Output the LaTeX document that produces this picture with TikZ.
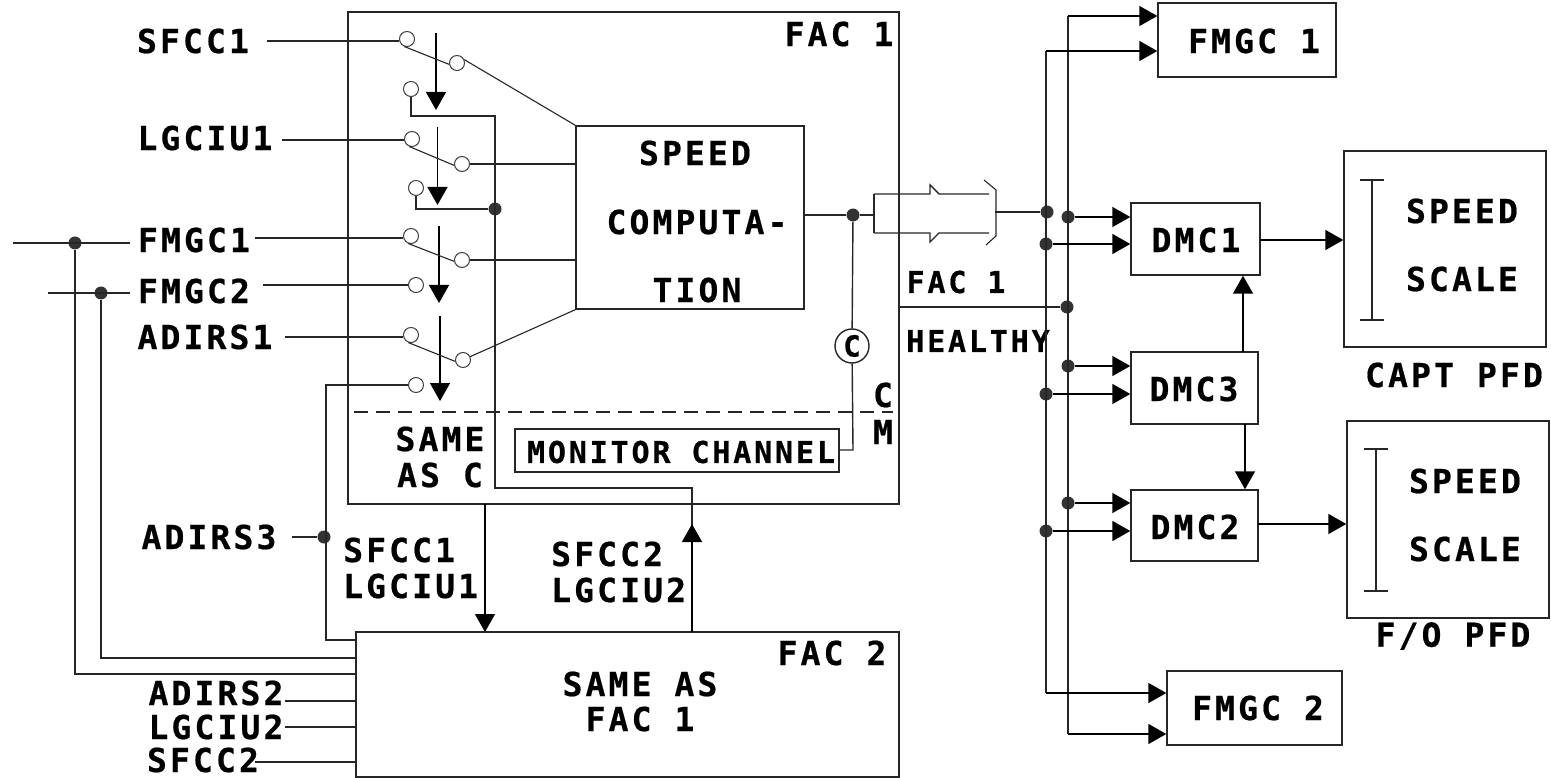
\documentclass[tikz,border=0pt]{standalone}
\usepackage{fontspec}
\usetikzlibrary{positioning,arrows.meta}
\newfontfamily\wirefont[LetterSpace=9.5,FakeBold=0.6]{DejaVu Sans Mono Bold}
\tikzset{
  wire/.style={line width=1.4pt,draw=black!85},
  flow/.style={line width=1.4pt,draw=black,-{Triangle[length=18pt,width=20pt]}},
  contact/.style={circle,draw=black!75,line width=1pt,fill=white,inner sep=0pt,minimum size=15pt},
  joint/.style={circle,fill=black!80,inner sep=0pt,minimum size=13pt},
  unit/.style={draw=black!85,line width=1.4pt,inner sep=0pt},
  txt/.style={font=\wirefont\fontsize{33}{36}\selectfont,inner sep=0pt,align=center},
  smalltxt/.style={font=\wirefont\fontsize{30}{34}\selectfont,inner sep=0pt}
}
\begin{document}
\begin{tikzpicture}[x=1pt,y=-1pt]
\useasboundingbox (0,0) rectangle (1551,778);
% computer boxes
\node[unit,minimum width=551pt,minimum height=492pt] (fac1) at (623.5,258) {};
\node[unit,minimum width=543pt,minimum height=145pt] (fac2) at (627.5,704.5) {};
\node[unit,minimum width=228pt,minimum height=183pt] (speed) at (690,217.5) {};
\node[unit,minimum width=324pt,minimum height=43pt] (monitor) at (677,450.5) {};
\node[unit,minimum width=178pt,minimum height=74pt] (fmgc1) at (1247,40) {};
\node[unit,minimum width=175pt,minimum height=74pt] (fmgc2) at (1254.5,708) {};
\node[unit,minimum width=129pt,minimum height=72pt] (dmc1) at (1195.5,239) {};
\node[unit,minimum width=127pt,minimum height=72pt] (dmc3) at (1194.5,388) {};
\node[unit,minimum width=127pt,minimum height=71pt] (dmc2) at (1194.5,525.5) {};
\node[unit,minimum width=202pt,minimum height=196pt] (capt) at (1445,249) {};
\node[unit,minimum width=202pt,minimum height=197pt] (fo) at (1448,519.5) {};
% box texts
\node[txt] (tfac1) at (839,34) {FAC 1};
\node[txt] (tfac2) at (832,653) {FAC 2};
\node[txt] (tsp) at (695,153) {SPEED};
\node[txt] (tcomp) at (697,222) {COMPUTA-};
\node[txt] (ttion) at (697,290) {TION};
\node[smalltxt] (tmon) at (681,452) {MONITOR CHANNEL};
\node[txt] (tsame) at (440,439) {SAME};
\node[txt] (tasc) at (440,475) {AS C};
\node[txt] (tc) at (883,395) {C};
\node[txt] (tm) at (883,432) {M};
\node[txt] (tsameas) at (640,684) {SAME AS};
\node[txt] (tfac11) at (640,719) {FAC 1};
\node[txt] (tf1) at (1254,41) {FMGC 1};
\node[txt] (tf2) at (1258,708) {FMGC 2};
\node[txt] (td1) at (1196,240) {DMC1};
\node[txt] (td3) at (1194,389) {DMC3};
\node[txt] (td2) at (1195,527) {DMC2};
\node[txt] (tsp1) at (1462,211) {SPEED};
\node[txt] (tsc1) at (1462,279) {SCALE};
\node[txt] (tsp2) at (1465,481) {SPEED};
\node[txt] (tsc2) at (1465,549) {SCALE};
\node[txt] (tcapt) at (1454,375) {CAPT PFD};
\node[txt] (tfo) at (1453,636) {F/O PFD};
\node[smalltxt] (thf) at (956,282) {FAC 1};
\node[smalltxt] (thh) at (978,341) {HEALTHY};
% signal names
\node[txt] (lsfcc1) at (193,41) {SFCC1};
\node[txt] (llgciu1) at (205,138) {LGCIU1};
\node[txt] (lfmgc1) at (194,240) {FMGC1};
\node[txt] (lfmgc2) at (194,291) {FMGC2};
\node[txt] (ladirs1) at (205,337) {ADIRS1};
\node[txt] (ladirs3) at (209,537) {ADIRS3};
\node[txt] (ladirs2) at (216,693) {ADIRS2};
\node[txt] (llgciu2) at (216,727) {LGCIU2};
\node[txt] (lsfcc2) at (203,760) {SFCC2};
\node[txt,align=left,anchor=west] (ldn) at (343,568) {SFCC1\\LGCIU1};
\node[txt,align=left,anchor=west] (lup) at (551,572) {SFCC2\\LGCIU2};
% switch contacts
\foreach \nm/\px/\py in {a1/407/39,b1/457/63,c1/411/89,a2/412/139,b2/462/164,c2/416/188,
  a3/411/236,b3/462/260,c3/416/285,a4/411/335,b4/463/360,c4/416/385}
  \node[contact] (\nm) at (\px,\py) {};
\foreach \nm/\px/\ptop/\pbot in {1/436/33/110,2/437.5/127/205,3/439/226/303,4/440/316/401}{
  \coordinate (s\nm) at (\px,\ptop);
  \coordinate (e\nm) at (\px,\pbot);
  \draw[flow] (s\nm) -- (e\nm);
}
\foreach \nm in {1,2,3,4}
  \draw[wire,line width=1.1pt] (a\nm.250) -- (b\nm.190);
% junctions
\foreach \nm/\px/\py in {jc/495/209,jo/853/215,ja/1047/212,jb/1046/244,jd/1068/217,jh/1067/307,
  je/1068/366,jf/1046/394,jg/1068/503,ji/1046/531,jf1/75/243,jf2/101/293,ja3/324/537}
  \node[joint] (\nm) at (\px,\py) {};
% inputs of FAC 1
\coordinate (isfcc1) at (267,41);
\coordinate (ilgciu1) at (282,140);
\coordinate (ifmgc1) at (255,238);
\coordinate (ifmgc2) at (263,285);
\coordinate (iadirs1) at (285,337);
\draw[wire] (isfcc1) -- (isfcc1 -| a1.west);
\draw[wire] (ilgciu1) -- (ilgciu1 -| a2.west);
\draw[wire] (ifmgc1) -- (ifmgc1 -| a3.west);
\draw[wire] (ifmgc2) -- (c3);
\draw[wire] (iadirs1) -- (iadirs1 -| a4.west);
% switches into computation
\draw[wire,line width=1.1pt] (b1.25) -- (speed.north west);
\draw[wire] (b2) -- (b2 -| speed.west);
\draw[wire] (b3) -- (b3 -| speed.west);
\draw[wire,line width=1.1pt] (b4.25) -- (speed.south west);
% cross feed to FAC 2
\coordinate (xa) at (495,116);
\coordinate (xb) at (495,488);
\coordinate (xc) at (692,488);
\coordinate (xd) at (692,524);
\coordinate (xe) at (692,632);
\draw[wire] (c1) |- (xa) -- (xb) -- (xc) -- (xe);
\draw[flow] (xe) -- (xd);
\draw[wire] (c2) |- (jc);
\coordinate (dna) at (485,504);
\coordinate (dnb) at (485,632);
\draw[flow] (dna) -- (dnb);
\coordinate (wa) at (326,388);
\coordinate (wb) at (326,640);
\coordinate (wc) at (356,640);
\draw[wire] (c4) -- (c4 -| wa) -- (wb) -- (wc);
\coordinate (iadirs3) at (292,537);
\draw[wire] (iadirs3) -- (ja3);
% inputs of FAC 2
\coordinate (lf1) at (13,243);
\coordinate (rf1) at (130,243);
\coordinate (lf2) at (48,293);
\coordinate (rf2) at (130,293);
\coordinate (bf1) at (75,674);
\coordinate (bf2) at (101,658);
\draw[wire] (lf1) -- (rf1);
\draw[wire] (lf2) -- (rf2);
\draw[wire] (jf1) -- (bf1) -- (bf1 -| fac2.west);
\draw[wire] (jf2) -- (bf2) -- (bf2 -| fac2.west);
\coordinate (iadirs2) at (285,701);
\coordinate (ilgciu2) at (285,727);
\coordinate (isfcc2) at (255,762);
\draw[wire] (iadirs2) -- (iadirs2 -| fac2.west);
\draw[wire] (ilgciu2) -- (ilgciu2 -| fac2.west);
\draw[wire] (isfcc2) -- (isfcc2 -| fac2.west);
% dashed split and monitor
\coordinate (dl) at (354,412);
\coordinate (dr) at (893,412);
\draw[wire,line width=1.1pt,dash pattern=on 14pt off 8pt] (dl) -- (dr);
\node[circle,draw=black!85,line width=1.4pt,fill=white,inner sep=0pt,minimum size=34pt,font=\wirefont\fontsize{29}{30}\selectfont] (cmp) at (852,346) {C};
\coordinate (mb) at (853,450);
\draw[wire] (jo) -- (cmp);
\draw[wire] (cmp) -- (mb) -- (monitor.east |- mb);
% output connector
\coordinate (pa) at (874,194);
\coordinate (pb) at (874,233);
\coordinate (pc) at (873,215);
\coordinate (na) at (930,185);
\coordinate (nb) at (939,194);
\coordinate (nc) at (930,242);
\coordinate (nd) at (939,233);
\coordinate (qa) at (989,194);
\coordinate (qb) at (989,233);
\draw[wire] (speed.east |- jo) -- (jo) -- (pc);
\draw[wire,line width=2.4pt] (pa) -- (pb);
\draw[wire] (pa) -- (pa -| na) -- (na) -- (nb) -- (qa);
\draw[wire] (pb) -- (pb -| nc) -- (nc) -- (nd) -- (qb);
\coordinate (ra) at (984,180);
\coordinate (rb) at (996,190);
\coordinate (rc) at (996,236);
\coordinate (rd) at (986,245);
\draw[wire,line width=1.1pt] (ra) -- (rb) -- (rc) -- (rd);
\coordinate (rm) at (995,212);
\draw[wire] (rm) -- (ja);
\draw[wire] (fac1.east |- jh) -- (jh);
% buses
\coordinate (bsa) at (1046,51);
\coordinate (bsb) at (1068,16);
\coordinate (bsc) at (1046,693);
\coordinate (bsd) at (1068,734);
\draw[wire] (bsa) -- (bsc);
\draw[wire] (bsb) -- (bsd);
\draw[flow] (bsa) -- (bsa -| fmgc1.west);
\draw[flow] (bsb) -- (bsb -| fmgc1.west);
\draw[flow] (bsc) -- (bsc -| fmgc2.west);
\draw[flow] (bsd) -- (bsd -| fmgc2.west);
\draw[flow] (jd) -- (jd -| dmc1.west);
\draw[flow] (jb) -- (jb -| dmc1.west);
\draw[flow] (je) -- (je -| dmc3.west);
\draw[flow] (jf) -- (jf -| dmc3.west);
\draw[flow] (jg) -- (jg -| dmc2.west);
\draw[flow] (ji) -- (ji -| dmc2.west);
% displays
\coordinate (o1) at (1260,240);
\coordinate (o2) at (1258,524);
\coordinate (u3) at (1243,352);
\coordinate (v3) at (1245,424);
\draw[flow] (o1) -- (o1 -| capt.west);
\draw[flow] (o2) -- (o2 -| fo.west);
\draw[flow] (u3) -- (u3 |- dmc1.south);
\draw[flow] (v3) -- (v3 |- dmc2.north);
% speed scales
\coordinate (sc1) at (1372,180);
\coordinate (sc2) at (1372,320);
\coordinate (sc3) at (1376,449);
\coordinate (sc4) at (1376,591);
\draw[wire,line width=1.1pt] (sc1) -- (sc2);
\draw[wire,line width=1.1pt] (sc3) -- (sc4);
\foreach \nm in {sc1,sc2,sc3,sc4}
  \draw[wire,line width=1.1pt] ([xshift=-12pt]\nm) -- ([xshift=12pt]\nm);
\end{tikzpicture}
\end{document}
